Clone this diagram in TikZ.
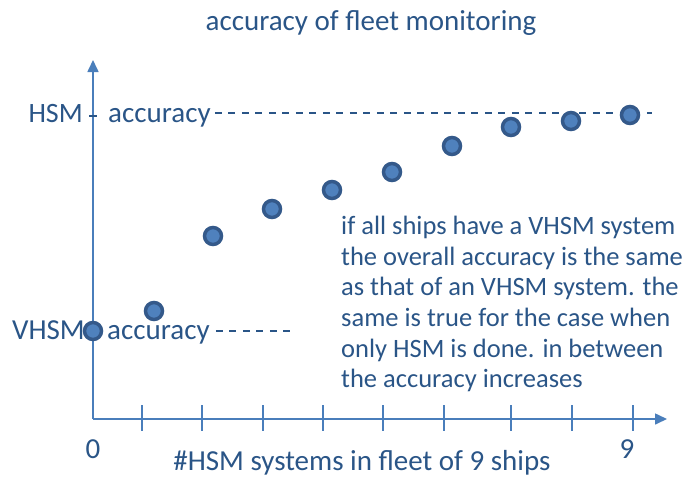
\documentclass[tikz,border=0pt]{standalone}
\usepackage{fontspec}
\setmainfont{Carlito}
\usetikzlibrary{arrows.meta}
\definecolor{txt}{HTML}{2A5587}
\definecolor{axis}{HTML}{4A7EBB}
\definecolor{dotfill}{HTML}{4F81BD}
\definecolor{dotline}{HTML}{34598A}
\tikzset{
  lbl/.style={font=\fontsize{29}{31}\selectfont, text=txt, inner sep=0pt},
  axisline/.style={draw=axis, line width=1.6pt, -{Triangle[length=12pt,width=11pt]}},
  tickmark/.style={draw=axis, line width=1.4pt},
  guide/.style={draw=txt, line width=1.3pt, dash pattern=on 7pt off 6.5pt},
  datadot/.style={circle, fill=dotfill, draw=dotline, line width=3.5pt, minimum size=17pt, inner sep=0pt},
}
\begin{document}
\begin{tikzpicture}[x=1pt,y=-1pt]
\useasboundingbox (0,0) rectangle (688,482);
\coordinate (o) at (93,419);
\coordinate (ytip) at (93,60);
\coordinate (xtip) at (667,419);
\draw[axisline] (o) -- (ytip);
\draw[axisline] (o) -- (xtip);
\foreach \x in {142,202,263,323,383,444,511,572,633}
  \draw[tickmark] (\x,405) -- (\x,431);
\node[lbl, anchor=base] (title) at (371,30) {accuracy of fleet monitoring};
\node[lbl, anchor=base east, font=\fontsize{28}{31}\selectfont] (hsm) at (83,122) {HSM};
\node[lbl, anchor=base west] (hacc) at (108,122) {accuracy};
\coordinate (hend) at (652,113);
\coordinate (hm1) at (89,116);
\coordinate (hm2) at (97,116);
\draw[draw=txt, line width=1.3pt] (hm1) -- (hm2);
\draw[guide] (hacc.east |- hend) ++(4,0) -- (hend);
\node[lbl, anchor=base east] (vhsm) at (85,339) {VHSM};
\node[lbl, anchor=base west] (vacc) at (107,339) {accuracy};
\coordinate (vend) at (290,331);
\draw[guide] (vacc.east |- vend) ++(6,0) -- (vend);
\node[lbl, anchor=base] (zero) at (93,458) {0};
\node[lbl, anchor=base] (nine) at (627,458) {9};
\node[lbl, anchor=base] (xlabel) at (362,470) {\#HSM systems in fleet of 9 ships};
\node[lbl, anchor=north west, align=left, font=\fontsize{26.5}{30.6}\selectfont] (note) at (341,216)
 {if all ships have a VHSM system\\the overall accuracy is the same\\as that of an VHSM system. the\\same is true for the case when\\only HSM is done. in between\\the accuracy increases};
\foreach \i/\x/\y in {0/93/331,1/154/311,2/213/236,3/272/209,4/332/190,5/392/172,6/452/146,7/511/127,8/571/121,9/630/115}
  \node[datadot] (d\i) at (\x,\y) {};
\end{tikzpicture}
\end{document}
